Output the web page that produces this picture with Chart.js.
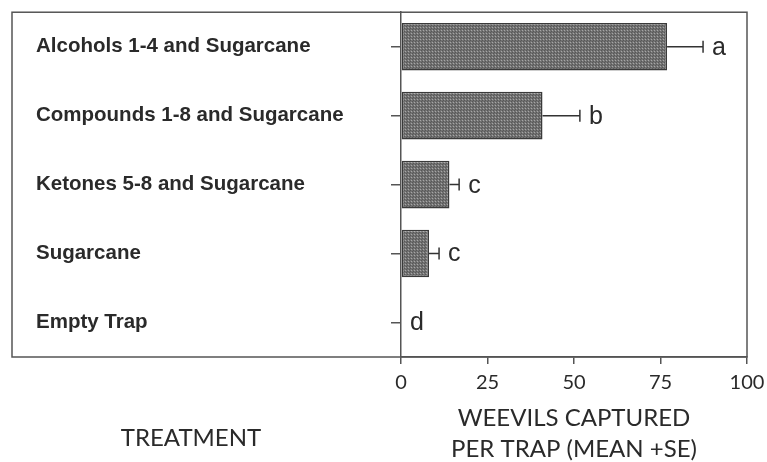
<!DOCTYPE html>
<html>
<head>
<meta charset="utf-8">
<script src="https://cdn.jsdelivr.net/npm/chart.js@4/dist/chart.umd.min.js"></script>
<style>
  html, body { margin: 0; padding: 0; background: #fff; }
  #wrap { width: 767px; height: 462px; position: relative; }
</style>
</head>
<body>
<div id="wrap"><canvas id="c" width="767" height="462"></canvas></div>
<script>
// Treatments, mean weevils captured per trap, standard errors and significance letters
const treatments = [
  'Alcohols 1-4 and Sugarcane',
  'Compounds 1-8 and Sugarcane',
  'Ketones 5-8 and Sugarcane',
  'Sugarcane',
  'Empty Trap'
];
const meanCaptured = [76.9, 40.9, 14.0, 8.1, 0];
const standardError = [10.4, 10.8, 2.8, 2.9, 0];
const sigLetters = ['a', 'b', 'c', 'c', 'd'];
const xTicks = [0, 25, 50, 75, 100];

const INK = '#2a2a2a';
const FRAME = '#555';

// Stippled grey fill for the bars
function stipple() {
  const p = document.createElement('canvas');
  p.width = 3; p.height = 3;
  const g = p.getContext('2d');
  g.fillStyle = '#727272';
  g.fillRect(0, 0, 3, 3);
  g.fillStyle = '#a6a6a6';
  g.fillRect(0, 0, 1, 1);
  g.fillStyle = '#575757';
  g.fillRect(1, 2, 1, 1);
  g.fillRect(2, 1, 1, 1);
  return g.createPattern(p, 'repeat');
}

// Outer frame around labels and plot, plus the left-side caption
const framePlugin = {
  id: 'frame',
  afterDraw(chart) {
    const { ctx, chartArea: a } = chart;
    ctx.save();
    ctx.strokeStyle = FRAME;
    ctx.lineWidth = 1.5;
    ctx.strokeRect(12, a.top, a.right - 12, a.bottom - a.top);
    ctx.fillStyle = INK;
    ctx.font = '400 24px Lato';
    ctx.textAlign = 'center';
    ctx.textBaseline = 'middle';
    ctx.fillText('TREATMENT', 191, 438);
    ctx.restore();
  }
};

// Error bars (mean + SE) with caps, followed by the significance letters
const errorPlugin = {
  id: 'errorbars',
  afterDatasetsDraw(chart) {
    const { ctx, scales: { x, y } } = chart;
    ctx.save();
    ctx.strokeStyle = '#333';
    ctx.lineWidth = 1.5;
    ctx.fillStyle = INK;
    ctx.font = '400 25px "Liberation Sans", Arial, sans-serif';
    ctx.textAlign = 'left';
    ctx.textBaseline = 'middle';
    meanCaptured.forEach((m, i) => {
      const yc = y.getPixelForValue(i);
      const x0 = x.getPixelForValue(m);
      const x1 = x.getPixelForValue(m + standardError[i]);
      if (standardError[i] > 0) {
        ctx.beginPath();
        ctx.moveTo(x0, yc);
        ctx.lineTo(x1, yc);
        ctx.moveTo(x1, yc - 6);
        ctx.lineTo(x1, yc + 6);
        ctx.stroke();
      }
      ctx.fillText(sigLetters[i], x1 + 9, yc + 1);
    });
    ctx.restore();
  }
};

new Chart(document.getElementById('c'), {
  type: 'bar',
  data: {
    labels: treatments,
    datasets: [{
      data: meanCaptured,
      backgroundColor: stipple(),
      borderColor: '#3a3a3a',
      borderWidth: 1.5,
      borderSkipped: false,
      barPercentage: 0.69,
      categoryPercentage: 1.0
    }]
  },
  options: {
    indexAxis: 'y',
    responsive: false,
    animation: false,
    devicePixelRatio: 1,
    layout: { padding: { left: 36, right: 20, top: 10, bottom: 0 } },
    plugins: { legend: { display: false }, tooltip: { enabled: false } },
    scales: {
      x: {
        type: 'linear',
        min: 0, max: 100,
        afterBuildTicks(scale) { scale.ticks = xTicks.map(v => ({ value: v })); },
        grid: { drawOnChartArea: false, tickLength: 7, color: FRAME, lineWidth: 1.5 },
        border: { color: FRAME, width: 1.5 },
        ticks: { color: INK, font: { family: 'Lato', size: 20, lineHeight: 1.7 }, padding: 2, maxRotation: 0 },
        title: {
          display: true,
          text: ['WEEVILS CAPTURED', 'PER TRAP (MEAN +SE)'],
          color: INK,
          font: { family: 'Lato', size: 24, lineHeight: 1.3 },
          padding: { top: 0, bottom: -3 }
        },
        afterFit(scale) { scale.height = 105; }
      },
      y: {
        grid: { drawOnChartArea: false, offset: false, tickLength: 10, color: FRAME, lineWidth: 1.5 },
        border: { color: FRAME, width: 1.5 },
        ticks: {
          crossAlign: 'far',
          color: INK,
          font: { family: '"Liberation Sans", Arial, sans-serif', size: 20.5, weight: 'bold', lineHeight: 0.9 }
        },
        afterFit(scale) { scale.width = 365; }
      }
    }
  },
  plugins: [framePlugin, errorPlugin]
});
</script>
</body>
</html>
